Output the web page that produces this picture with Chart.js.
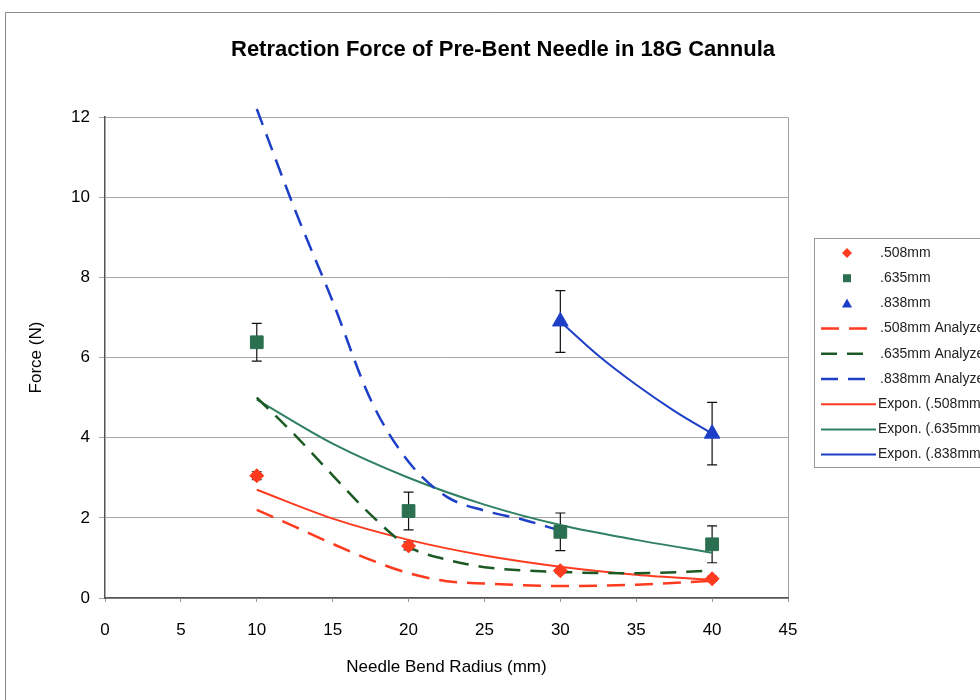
<!DOCTYPE html>
<html>
<head>
<meta charset="utf-8">
<title>Retraction Force of Pre-Bent Needle in 18G Cannula</title>
<script src="https://cdn.jsdelivr.net/npm/chart.js@4.4.1/dist/chart.umd.min.js"></script>
<style>
body{margin:0;background:#fff;}
canvas{display:block;}
</style>
</head>
<body>
<canvas id="forceChart" width="980" height="700"></canvas>
<script>
// measured retraction force (N) vs bend radius (mm)
var radius = [10, 20, 30, 40];
var force508 = [3.05, 1.3, 0.68, 0.48];
var err508 = [0.1, 0.1, 0.06, 0.06];
var force635 = [6.38, 2.17, 1.65, 1.34];
var err635 = [0.47, 0.47, 0.47, 0.46];
var radius838 = [30, 40];
var force838 = [6.9, 4.1];
var err838 = [0.77, 0.78];

// analytical model curves
var analyzedRadius = [10, 12.5, 15, 17.5, 20, 22.5, 25, 30, 35, 40];
var analyzed508 = [2.2, 1.78, 1.35, 0.95, 0.62, 0.42, 0.36, 0.3, 0.33, 0.43];
var analyzed635 = [5.0, 4.07, 3.06, 2.08, 1.28, 0.96, 0.77, 0.65, 0.62, 0.68];
var analyzedRadius838 = [10, 12.5, 15, 17.5, 20, 22.5, 25, 27.5, 30];
var analyzed838 = [12.2, 9.7, 7.4, 4.95, 3.4, 2.53, 2.18, 1.96, 1.68];

// exponential trendlines
var exponRadius = [10, 15, 20, 25, 30, 35, 40];
var expon508 = [2.7, 1.98, 1.45, 1.06, 0.78, 0.58, 0.45];
var expon635 = [4.95, 3.85, 3.0, 2.33, 1.82, 1.45, 1.13];
var exponRadius838 = [30, 32.5, 35, 37.5, 40];
var expon838 = [6.9, 6.05, 5.32, 4.67, 4.1];

var xTicks = [0, 5, 10, 15, 20, 25, 30, 35, 40, 45];
var yTicks = [0, 2, 4, 6, 8, 10, 12];

var chartTitle = 'Retraction Force of Pre-Bent Needle in 18G Cannula';

var RED = '#ff3b1f', GREEN = '#2b7050', GREEN_FIT = '#2f8060', GREEN_DARK = '#1c5a24', BLUE = '#1d3fc8';
var FONT = '"Liberation Sans", Arial, sans-serif';

function pts(xs, ys){
	var out = [];
	for(var i = 0; i < xs.length; i++){
		out.push({x: xs[i], y: ys[i]});
	}
	return out;
}

function markerSet(label, xs, ys, errs, color, style, r){
	return {
		label: label,
		data: pts(xs, ys),
		errors: errs,
		showLine: false,
		pointStyle: style,
		pointRadius: r,
		pointHoverRadius: r,
		backgroundColor: color,
		borderColor: color,
		borderWidth: 1
	};
}

function lineSet(label, xs, ys, color, dash, width){
	return {
		label: label,
		data: pts(xs, ys),
		showLine: true,
		pointRadius: 0,
		borderColor: color,
		backgroundColor: color,
		borderWidth: width,
		borderDash: dash,
		cubicInterpolationMode: 'monotone',
		clip: {left: 5, top: 15, right: 5, bottom: 5}
	};
}

// error bars go under the markers
var errorBars = {
	id: 'errorBars',
	beforeDatasetsDraw: function(chart){
		var ctx = chart.ctx;
		var xs = chart.scales.x, ys = chart.scales.y;
		ctx.save();
		ctx.strokeStyle = '#111';
		ctx.lineWidth = 1.2;
		chart.data.datasets.forEach(function(ds){
			if(!ds.errors) return;
			ds.data.forEach(function(p, i){
				var px = xs.getPixelForValue(p.x);
				var hi = ys.getPixelForValue(p.y + ds.errors[i]);
				var lo = ys.getPixelForValue(p.y - ds.errors[i]);
				ctx.beginPath();
				ctx.moveTo(px, hi); ctx.lineTo(px, lo);
				ctx.moveTo(px - 5, hi); ctx.lineTo(px + 5, hi);
				ctx.moveTo(px - 5, lo); ctx.lineTo(px + 5, lo);
				ctx.stroke();
			});
		});
		ctx.restore();
	}
};

// title, plot area outline, outer frame and the legend box
var frame = {
	id: 'frame',
	beforeDraw: function(chart){
		var ctx = chart.ctx, a = chart.chartArea;
		ctx.save();
		ctx.fillStyle = '#fff';
		ctx.fillRect(0, 0, chart.width, chart.height);
		ctx.strokeStyle = '#8a8a8a';
		ctx.lineWidth = 1;
		ctx.beginPath();
		ctx.moveTo(5.5, 700); ctx.lineTo(5.5, 12.5); ctx.lineTo(980, 12.5);
		ctx.stroke();
		ctx.strokeStyle = '#a0a0a0';
		ctx.beginPath();
		ctx.moveTo(a.left, a.top + 0.5); ctx.lineTo(a.right + 0.5, a.top + 0.5); ctx.lineTo(a.right + 0.5, a.bottom);
		ctx.stroke();

		ctx.fillStyle = '#000';
		ctx.font = 'bold 22px ' + FONT;
		ctx.textAlign = 'center';
		ctx.textBaseline = 'middle';
		ctx.fillText(chartTitle, 503, 50);
		ctx.restore();
	},
	afterDraw: function(chart){
		var ctx = chart.ctx;
		var left = 814, top = 238, rowH = 25.2;
		ctx.save();
		ctx.fillStyle = '#fff';
		ctx.fillRect(left, top, 200, 229);
		ctx.strokeStyle = '#9a9a9a';
		ctx.lineWidth = 1;
		ctx.strokeRect(left + 0.5, top + 0.5, 200, 229);
		ctx.font = '14px ' + FONT;
		ctx.textBaseline = 'middle';
		chart.data.datasets.forEach(function(ds, i){
			var y = top + 15 + i * rowH;
			ctx.fillStyle = ds.borderColor;
			ctx.strokeStyle = ds.borderColor;
			if(ds.showLine){
				ctx.lineWidth = ds.borderWidth;
				ctx.setLineDash(ds.borderDash);
				ctx.beginPath();
				ctx.moveTo(821, y);
				ctx.lineTo(ds.borderDash.length ? 867 : 876, y);
				ctx.stroke();
				ctx.setLineDash([]);
			} else {
				var cx = 847;
				ctx.beginPath();
				if(ds.pointStyle === 'rectRot'){
					ctx.moveTo(cx, y - 5); ctx.lineTo(cx + 5, y); ctx.lineTo(cx, y + 5); ctx.lineTo(cx - 5, y);
				} else if(ds.pointStyle === 'rect'){
					ctx.rect(cx - 4, y - 4, 8, 8);
				} else {
					ctx.moveTo(cx, y - 5); ctx.lineTo(cx + 5, y + 4); ctx.lineTo(cx - 5, y + 4);
				}
				ctx.closePath();
				ctx.fill();
			}
			ctx.fillStyle = '#222';
			ctx.fillText(ds.label, ds.label.indexOf('Expon') === 0 ? 878 : 880, y);
		});
		ctx.restore();
	}
};

var ctx = document.getElementById('forceChart');
var chart = new Chart(ctx, {
	type: 'scatter',
	data: {
		datasets: [
			markerSet('.508mm', radius, force508, err508, RED, 'rectRot', 7),
			markerSet('.635mm', radius, force635, err635, GREEN, 'rect', 9),
			markerSet('.838mm', radius838, force838, err838, BLUE, 'triangle', 9),
			lineSet('.508mm Analyzed', analyzedRadius, analyzed508, RED, [18, 10], 2.5),
			lineSet('.635mm Analyzed', analyzedRadius, analyzed635, GREEN_DARK, [16, 10], 2.5),
			lineSet('.838mm Analyzed', analyzedRadius838, analyzed838, BLUE, [17, 10], 2.5),
			lineSet('Expon. (.508mm)', exponRadius, expon508, RED, [], 2),
			lineSet('Expon. (.635mm)', exponRadius, expon635, GREEN_FIT, [], 2),
			lineSet('Expon. (.838mm)', exponRadius838, expon838, BLUE, [], 2)
		]
	},
	options: {
		responsive: false,
		animation: false,
		events: [],
		layout: {
			padding: {left: 0, top: 117, right: 192, bottom: 0}
		},
		plugins: {
			legend: {display: false},
			tooltip: {enabled: false},
			title: {display: false}
		},
		scales: {
			x: {
				type: 'linear',
				min: 0,
				max: 45,
				afterBuildTicks: function(s){ s.ticks = xTicks.map(function(v){ return {value: v}; }); },
				afterFit: function(s){ s.height = 102; },
				ticks: {
					color: '#000',
					padding: 18,
					font: {family: FONT, size: 17}
				},
				grid: {drawOnChartArea: false, drawTicks: true, tickLength: 4, color: '#999'},
				border: {color: '#555', width: 1.5},
				title: {
					display: true,
					text: 'Needle Bend Radius (mm)',
					color: '#000',
					font: {family: FONT, size: 17},
					padding: {top: 0, bottom: 22}
				}
			},
			y: {
				type: 'linear',
				min: 0,
				max: 12,
				afterBuildTicks: function(s){ s.ticks = yTicks.map(function(v){ return {value: v}; }); },
				afterFit: function(s){ s.width = 105; },
				ticks: {
					color: '#000',
					padding: 9,
					font: {family: FONT, size: 17}
				},
				grid: {color: '#a8a8a8', lineWidth: 1, tickLength: 6},
				border: {color: '#555', width: 1.5},
				title: {
					display: true,
					text: 'Force (N)',
					color: '#000',
					font: {family: FONT, size: 17},
					padding: {top: 26, bottom: 0}
				}
			}
		}
	},
	plugins: [errorBars, frame]
});
</script>
</body>
</html>
